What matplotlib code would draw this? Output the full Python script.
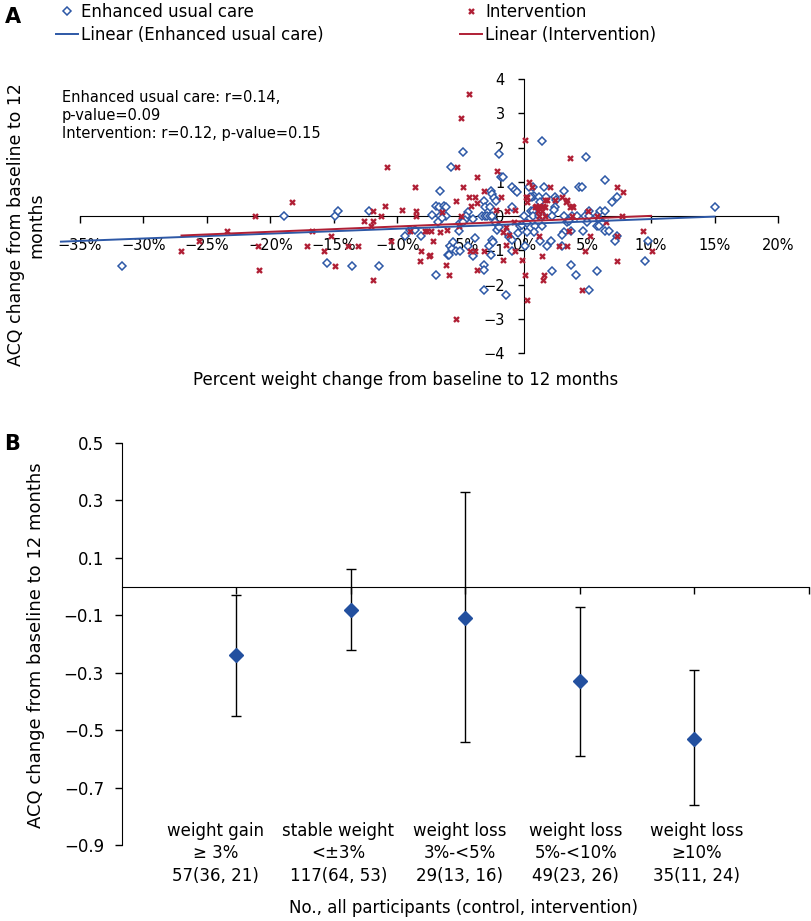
import numpy as np
import matplotlib
matplotlib.use("Agg")
import matplotlib.pyplot as plt
import matplotlib.transforms as mtransforms
from matplotlib.lines import Line2D
from matplotlib.ticker import FuncFormatter

# ---- panel A: scatter of % weight change vs ACQ change ----
eu_x = [-31.7, -18.95, -15.5, -14.9, -14.7, -13.6, -12.2, -11.4, -9.4, -9.0, -8.6, -8.1,
        -4.78, -5.77, -1.97, -1.79, -1.68, -6.66, -2.65, -2.52, -3.17, -2.34, -2.23, -0.92,
        -0.76, -0.57, -6.93, -6.74, -6.3, -6.12, -4.43, -4.59, -4.7, -3.05, -2.71, -0.92,
        -7.27, -6.61, -6.17, -3.33, -3.1, -2.9, -2.7, -2.54, -2.28, -2.15, -2.02, -6.93,
        -6.01, -5.9, -5.83, -5.69, -5.38, -5.04, -5.57, -5.12, -4.46, -4.04, -3.91, -3.2,
        -3.2, -2.76, -2.54, -2.42, -2.6, -3.2, -1.44, -1.36, -1.23, -0.92, -0.92, -0.45,
        -0.31, -6.48, -6.75, -5.04, -4.83, -4.04,
        1.42, 0.73, 0.79, 1.6, 0.6, 1.13, 1.21, 2.44, 2.52, 3.15, 4.36, 4.88, 6.38, 0.42,
        4.54, 0.47, 1.71, 7.3, 6.9, 2.44, 0.55, 0.73, 2.39, 5.12, 5.98, 6.38, 0.0, 0.73,
        1.13, 1.47, 2.18, 3.1, 3.76, 4.15, 4.8, 5.07, 5.72, -0.18, 0.21, 0.87, 1.44, 3.41,
        3.57, 4.93, 5.98, 6.12, 5.77, 5.9, 0.79, 0.26, 3.1, 2.97, 3.68, 4.67, 6.33, 6.72,
        7.3, 1.26, 1.78, 2.1, 0.08, 2.18, 3.68, 4.07, 5.72, 5.07, 7.17, 9.53, 9.79, 15.04,
        2.97]
eu_y = [-1.45, 0.0, -1.37, 0.0, 0.14, -1.45, 0.14, -1.45, -0.58, -0.41, -0.41, -0.58,
        1.87, 1.42, 1.81, 1.15, 1.13, 0.72, 0.72, 0.65, 0.43, 0.52, 0.43, 0.86,
        0.76, 0.71, 0.29, 0.27, 0.29, 0.27, 0.11, 0.0, -0.12, 0.27, 0.27, 0.27,
        0.03, 0.0, 0.0, 0.0, 0.0, 0.0, 0.0, 0.0, -0.17, -0.41, -0.31, -1.73,
        -1.14, -1.14, -0.87, -0.95, -1.01, -1.01, -0.75, -0.44, -0.87, -1.16, -0.65, -1.43,
        -1.58, -0.87, -0.7, -0.75, -1.14, -2.16, -2.31, -0.51, -0.6, -0.7, -1.01, -0.51,
        -0.29, -0.07, -0.18, -0.21, -0.17, -0.1,
        2.2, 0.86, 0.58, 0.86, 0.56, 0.56, 0.42, 0.56, 0.47, 0.73, 0.86, 1.72, 1.05, 0.86,
        0.86, 0.56, 0.56, 0.56, 0.42, 0.27, 0.15, 0.15, 0.18, 0.15, 0.15, 0.15, 0.0, 0.0,
        0.0, 0.0, 0.0, 0.0, 0.0, 0.0, 0.0, 0.0, 0.0, -0.26, -0.21, -0.28, -0.28, -0.17,
        -0.14, -0.17, -0.12, -0.21, -0.28, -0.28, -0.46, -0.46, -0.46, -0.56, -0.44, -0.44, -0.44, -0.44,
        -0.57, -0.73, -0.87, -0.73, -0.87, -1.6, -1.44, -1.73, -1.6, -2.16, -0.73, -1.3, -0.73, 0.27,
        -0.87]

int_x = [-27.0, -25.6, -23.4, -21.2, -21.0, -20.9, -18.3, -17.1, -16.7, -15.8, -15.2, -14.9,
         -13.9, -13.1, -12.6, -11.9, -12.1, -11.9, -11.9, -11.3, -11.0, -10.8, -10.5, -8.6,
         -9.6, -8.5, -8.5, -9.0, -8.1, -8.2, -7.8, -7.5,
         -4.36, -4.99, -5.28, -3.73, -2.15, -4.78, -3.13, -4.36, -3.86, -5.35, -1.81, -6.51,
         -4.15, -2.23, -1.34, -0.71, -1.42, -1.63, -0.84, -1.16, -7.66, -7.32, -7.22, -7.4,
         -5.91, -6.14, -4.99, -4.25, -3.86, -3.2, -3.7, -1.68, -1.42, -0.71, -5.41, -0.18,
         -6.61, -6.08, -5.12, -3.73,
         0.03, 0.42, 0.6, 2.0, 0.21, 0.94, 1.2, 1.52, 1.65, 2.97, 3.76, 3.62, 3.36, 7.35,
         7.82, 0.13, 0.21, 1.78, 2.44, 3.31, 0.87, 1.18, 1.42, 1.65, 3.62, 3.83, 1.1, 1.39,
         5.01, 1.13, 1.65, 3.76, 5.72, 7.69, 6.46, 3.57, 7.3, 1.13, 2.78, 3.36, 4.8, 7.3,
         1.39, 0.08, 1.6, 1.47, 4.54, 0.26, 9.4, 10.06, 5.15]
int_y = [-1.01, -0.72, -0.44, 0.0, -0.87, -1.59, 0.42, -0.87, -0.43, -1.01, -0.59, -1.45,
         -0.88, -0.88, -0.15, 0.14, -0.29, -0.15, -1.88, 0.0, 0.28, 1.42, -0.73, 0.86,
         0.19, 0.15, 0.0, -0.43, -1.01, -1.3, -0.43, -1.16,
         3.57, 2.87, 1.42, 1.14, 1.3, 0.85, 0.72, 0.56, 0.56, 0.43, 0.55, 0.13,
         0.29, 0.18, 0.14, 0.18, -0.31, -0.46, -0.17, -0.56, -0.43, -0.43, -0.73, -1.14,
         -1.73, -1.44, 0.0, -1.01, -1.01, -1.01, -1.58, -1.29, -0.86, -1.01, -3.02, -1.29,
         -0.46, -0.41, -0.28, 0.37,
         2.22, 1.0, 0.86, 0.86, 0.56, 0.3, 0.3, 0.3, 0.47, 0.56, 0.29, 1.7, 0.47, 0.86,
         0.71, 0.56, 0.42, 0.47, 0.47, 0.42, 0.27, 0.27, 0.27, 0.27, 0.27, 0.27, 0.15, 0.15,
         0.15, 0.0, 0.0, 0.0, 0.0, 0.0, -0.17, -0.44, -0.57, -0.58, -0.87, -0.87, -1.01, -1.3,
         -1.16, -1.73, -1.73, -1.87, -2.16, -2.46, -0.44, -1.01, -0.58]

# linear trend lines: slope, intercept, x range
eu_trend = [0.0142, -0.23, -36.5, 15.0]
int_trend = [0.0155, -0.15, -27.0, 10.0]

stats_text = ["Enhanced usual care: r=0.14,", "p-value=0.09",
              "Intervention: r=0.12, p-value=0.15"]

# ---- panel B: mean ACQ change by weight change category ----
cat_labels = ["weight gain\n\u2265 3%\n57(36, 21)",
              "stable weight\n<\u00b13%\n117(64, 53)",
              "weight loss\n3%-<5%\n29(13, 16)",
              "weight loss\n5%-<10%\n49(23, 26)",
              "weight loss\n\u226510%\n35(11, 24)"]
acq_mean = [-0.24, -0.08, -0.11, -0.33, -0.53]
acq_upper = [-0.03, 0.06, 0.33, -0.07, -0.29]
acq_lower = [-0.45, -0.22, -0.54, -0.59, -0.76]

BLUE = "#2d58a6"
RED = "#b01f35"
DIAMOND = "#23509f"

fig = plt.figure(figsize=(8.11, 9.21), dpi=100)
plt.rcParams["font.family"] = ["DejaVu Sans"]


def minus(s):
    return s.replace("-", "\u2212")


# ---------------- panel A ----------------
ax_a = fig.add_axes([0.0986, 0.6167, 0.8607, 0.2975])
ax_a.set_xlim(-35, 20)
ax_a.set_ylim(-4, 4)
for side in ["top", "right"]:
    ax_a.spines[side].set_visible(False)
ax_a.spines["left"].set_position(("data", 0))
ax_a.spines["bottom"].set_position(("data", 0))
ax_a.set_xticks(np.arange(-35, 21, 5))
ax_a.set_yticks(np.arange(-4, 5, 1))
ax_a.xaxis.set_major_formatter(FuncFormatter(lambda v, _: minus(f"{v:.0f}%")))
ax_a.yaxis.set_major_formatter(FuncFormatter(lambda v, _: minus(f"{v:.0f}")))
ax_a.tick_params(axis="x", direction="out", length=5, width=1, pad=11, labelsize=10.5)
ax_a.tick_params(axis="y", direction="out", length=4, width=1, pad=10, labelsize=10.5)

ax_a.plot(eu_x, eu_y, linestyle="none", marker="D", ms=3.6, mfc="white",
          mec=BLUE, mew=1.1, zorder=3)
ax_a.plot(int_x, int_y, linestyle="none", marker="x", ms=3.6, mec=RED, mew=1.7, zorder=3)

for trend, col in [(eu_trend, BLUE), (int_trend, RED)]:
    xs = np.array(trend[2:])
    ax_a.plot(xs, trend[0] * xs + trend[1], color=col, lw=1.4, clip_on=False, zorder=4)

h_eu = Line2D([], [], linestyle="none", marker="D", ms=3.6, mfc="white", mec=BLUE, mew=1.1)
h_eu_l = Line2D([], [], color=BLUE, lw=1.4)
h_int = Line2D([], [], linestyle="none", marker="x", ms=3.6, mec=RED, mew=1.7)
h_int_l = Line2D([], [], color=RED, lw=1.4)
leg_kw = dict(loc="upper left", frameon=False, fontsize=12, handlelength=1.3,
              handletextpad=0.2, borderpad=0, labelspacing=0.3, borderaxespad=0)
fig.legend([h_eu, h_eu_l], ["Enhanced usual care", "Linear (Enhanced usual care)"],
           bbox_to_anchor=(56 / 811, 1 - 3 / 921), **leg_kw)
fig.legend([h_int, h_int_l], ["Intervention", "Linear (Intervention)"],
           bbox_to_anchor=(460 / 811, 1 - 3 / 921), **leg_kw)

fig.text(62 / 811, 1 - 90 / 921, "\n".join(stats_text), ha="left", va="top",
         fontsize=10.5, linespacing=1.25)
fig.text(0.5, 1 - 380 / 921, "Percent weight change from baseline to 12 months",
         ha="center", va="center", fontsize=12)
fig.text(26 / 811, 1 - 225 / 921, "ACQ change from baseline to 12\nmonths", rotation=90,
         ha="center", va="center", fontsize=12.5, multialignment="center")
fig.text(13 / 811, 1 - 17 / 921, "A", ha="center", va="center", fontsize=15,
         fontweight="bold")

# ---------------- panel B ----------------
ax_b = fig.add_axes([0.1504, 0.0825, 0.847, 0.4365])
ax_b.set_xlim(0, 6)
ax_b.set_ylim(-0.9, 0.5)
for side in ["top", "right"]:
    ax_b.spines[side].set_visible(False)
ax_b.spines["bottom"].set_position(("data", 0))
ax_b.set_xticks(np.arange(1, 7))
ax_b.set_xticklabels([])
yt = [0.5, 0.3, 0.1, -0.1, -0.3, -0.5, -0.7, -0.9]
ax_b.set_yticks(yt)
ax_b.set_yticklabels([minus(f"{v:.1f}") for v in yt])
ax_b.tick_params(axis="x", direction="out", length=5, width=1)
ax_b.tick_params(axis="y", direction="out", length=5, width=1, pad=8, labelsize=12)

cat_x = np.arange(1, len(acq_mean) + 1)
mean = np.array(acq_mean)
yerr = [mean - np.array(acq_lower), np.array(acq_upper) - mean]
ax_b.errorbar(cat_x, mean, yerr=yerr, fmt="D", color=DIAMOND, ms=7.5, ecolor="black",
              elinewidth=1, capsize=3.5, capthick=1, zorder=3)

label_shift = [-0.18, -0.11, -0.05, -0.035, 0.02]
trans = mtransforms.blended_transform_factory(ax_b.transData, ax_b.transAxes)
for x, lab, dx in zip(cat_x, cat_labels, label_shift):
    ax_b.text(x + dx, 0.057, lab, transform=trans, ha="center", va="top",
              fontsize=12, linespacing=1.3)

fig.text(0.571, 1 - 908 / 921, "No., all participants (control, intervention)",
         ha="center", va="center", fontsize=12)
fig.text(36 / 811, 1 - 645 / 921, "ACQ change from baseline to 12 months", rotation=90,
         ha="center", va="center", fontsize=13)
fig.text(12 / 811, 1 - 444 / 921, "B", ha="center", va="center", fontsize=15,
         fontweight="bold")

fig.savefig("out.png", dpi=100)
